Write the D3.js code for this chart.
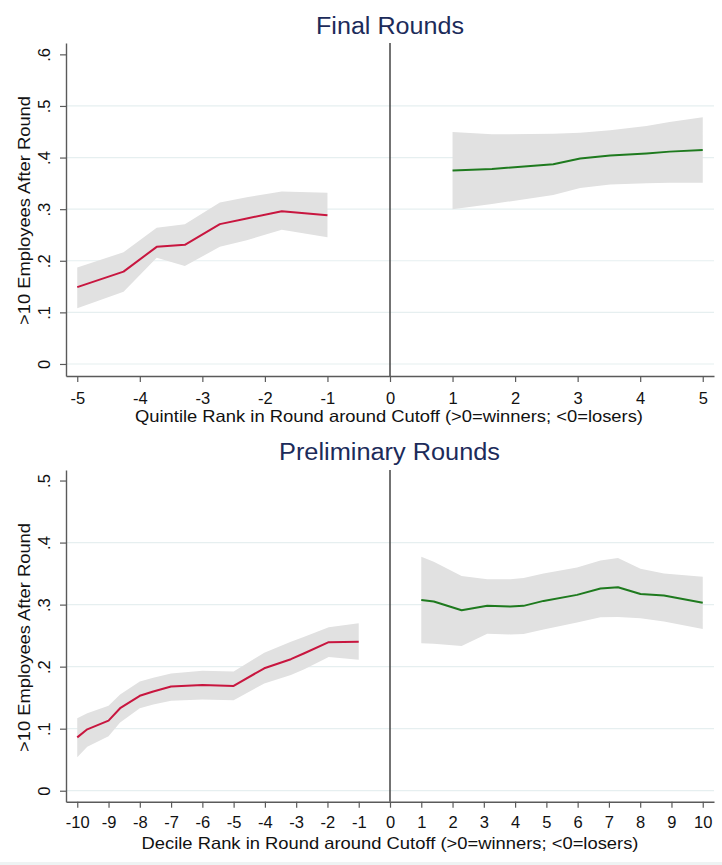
<!DOCTYPE html>
<html>
<head>
<meta charset="utf-8">
<script src="https://cdn.jsdelivr.net/npm/d3@7"></script>
<style>
  html, body { margin: 0; padding: 0; background: #fff; }
  svg { display: block; font-family: "Liberation Sans", Arial, Helvetica, sans-serif; }
</style>
</head>
<body>
<svg id="chart" width="722" height="865"></svg>
<script>
// ---------- Data ----------
// Final rounds (quintile ranks)
const finalTicksX = [-5, -4, -3, -2, -1, 0, 1, 2, 3, 4, 5];
const finalTicksY = [0, 0.1, 0.2, 0.3, 0.4, 0.5, 0.6];
const finalLoseX  = [-5, -4.26, -3.73, -3.28, -2.72, -2.29, -1.73, -1];
const finalLoseY  = [0.149, 0.179, 0.227, 0.231, 0.271, 0.282, 0.296, 0.288];
const finalLoseHi = [0.187, 0.2165, 0.264, 0.271, 0.313, 0.323, 0.334, 0.332];
const finalLoseLo = [0.108, 0.140, 0.206, 0.190, 0.227, 0.240, 0.260, 0.2455];
const finalWinX   = [1, 1.63, 2.61, 3.04, 3.52, 4.10, 4.47, 5];
const finalWinY   = [0.375, 0.378, 0.387, 0.398, 0.404, 0.408, 0.4115, 0.4147];
const finalWinHi  = [0.4496, 0.445, 0.446, 0.448, 0.453, 0.461, 0.469, 0.478];
const finalWinLo  = [0.300, 0.310, 0.3275, 0.341, 0.348, 0.350, 0.351, 0.3514];

// Preliminary rounds (decile ranks)
const prelimTicksX = [-10, -9, -8, -7, -6, -5, -4, -3, -2, -1, 0, 1, 2, 3, 4, 5, 6, 7, 8, 9, 10];
const prelimTicksY = [0, 0.1, 0.2, 0.3, 0.4, 0.5];
const prelimLoseX  = [-10, -9.68, -9, -8.63, -8, -7.57, -7, -6, -5, -4.02, -3.17, -2.74, -1.96, -1];
const prelimLoseY  = [0.086, 0.099, 0.113, 0.133, 0.153, 0.160, 0.168, 0.1705, 0.169, 0.1974, 0.212, 0.2216, 0.2394, 0.2403];
const prelimLoseHi = [0.1167, 0.125, 0.137, 0.155, 0.176, 0.182, 0.189, 0.1935, 0.192, 0.2226, 0.240, 0.248, 0.2635, 0.270];
const prelimLoseLo = [0.054, 0.071, 0.088, 0.110, 0.133, 0.139, 0.145, 0.147, 0.146, 0.173, 0.1866, 0.196, 0.2157, 0.211];
const prelimWinX   = [1, 1.40, 2.29, 3.11, 3.85, 4.27, 4.91, 5.98, 6.73, 7.29, 8.01, 8.76, 10];
const prelimWinY   = [0.3076, 0.305, 0.291, 0.298, 0.297, 0.298, 0.306, 0.3157, 0.326, 0.328, 0.317, 0.3146, 0.303];
const prelimWinHi  = [0.377, 0.369, 0.346, 0.341, 0.341, 0.343, 0.350, 0.360, 0.371, 0.375, 0.358, 0.350, 0.345];
const prelimWinLo  = [0.2377, 0.237, 0.2334, 0.253, 0.252, 0.2527, 0.260, 0.271, 0.2797, 0.280, 0.278, 0.2726, 0.2608];

const yTitle = ">10 Employees After Round";

// ---------- Drawing ----------
const svg = d3.select("#chart");
const loseColor = "#c8163f", winColor = "#1e7a1e", bandColor = "#e1e1e1";
const axisColor = "#5a5a5a", textColor = "#111";

function drawPanel(p) {
  const x = d3.scaleLinear().domain(p.xDomain).range([66, 714]);
  const y = d3.scaleLinear().domain(p.yDomain).range([p.bottom, p.top]);
  const g = svg.append("g");

  // gridlines (all but the top tick)
  g.selectAll("line.grid").data(p.ticksY.slice(0, -1)).join("line")
    .attr("x1", 66).attr("x2", 714)
    .attr("y1", d => y(d)).attr("y2", d => y(d))
    .attr("stroke", "#e6eff0").attr("stroke-width", 1.2);

  // bands and lines
  const drawSeries = (xs, ys, hi, lo, color) => {
    const pts = xs.map((v, i) => ({x: v, y: ys[i], hi: hi[i], lo: lo[i]}));
    g.append("path").datum(pts)
      .attr("d", d3.area().x(d => x(d.x)).y0(d => y(d.lo)).y1(d => y(d.hi)))
      .attr("fill", bandColor);
    g.append("path").datum(pts)
      .attr("d", d3.line().x(d => x(d.x)).y(d => y(d.y)))
      .attr("fill", "none").attr("stroke", color).attr("stroke-width", 2)
      .attr("stroke-linejoin", "round");
  };
  drawSeries(p.loseX, p.loseY, p.loseHi, p.loseLo, loseColor);
  drawSeries(p.winX, p.winY, p.winHi, p.winLo, winColor);

  // cutoff line
  g.append("line")
    .attr("x1", x(0)).attr("x2", x(0)).attr("y1", p.top).attr("y2", p.bottom)
    .attr("stroke", "#444").attr("stroke-width", 1.5);

  // y axis
  const fmt = v => v === 0 ? "0" : d3.format(".1f")(v).replace(/^0/, "");
  const ya = g.append("g").attr("transform", "translate(66,0)")
    .call(d3.axisLeft(y).tickValues(p.ticksY).tickFormat(fmt).tickSize(6).tickSizeOuter(0));
  ya.select(".domain").attr("stroke", axisColor).attr("stroke-width", 1.4);
  ya.selectAll(".tick line").attr("stroke", axisColor).attr("stroke-width", 1.2);
  ya.selectAll(".tick text")
    .attr("x", null).attr("dy", null)
    .attr("transform", "translate(-16,0) rotate(-90)")
    .attr("text-anchor", "middle")
    .attr("fill", textColor).style("font-size", "16.5px")
    .style("font-family", "'Liberation Sans', Arial, sans-serif");

  // x axis (plain hyphen-minus like the original)
  const xa = g.append("g").attr("transform", `translate(0,${p.bottom})`)
    .call(d3.axisBottom(x).tickValues(p.ticksX).tickFormat(d => String(d)).tickSize(6).tickSizeOuter(0));
  xa.select(".domain").attr("stroke", axisColor).attr("stroke-width", 1.4);
  xa.selectAll(".tick line").attr("stroke", axisColor).attr("stroke-width", 1.2);
  xa.selectAll(".tick text")
    .attr("y", p.xTickOffset).attr("dy", null)
    .attr("fill", textColor).style("font-size", "16.5px")
    .style("font-family", "'Liberation Sans', Arial, sans-serif");

  // titles
  g.append("text").text(p.title)
    .attr("x", p.titleX).attr("y", p.titleY).attr("text-anchor", "middle")
    .attr("textLength", p.titleLen).attr("lengthAdjust", "spacingAndGlyphs")
    .attr("fill", "#1c2b5a").style("font-size", "23.5px");
  g.append("text").text(p.xTitle)
    .attr("x", p.xTitleX).attr("y", p.xTitleY).attr("text-anchor", "middle")
    .attr("textLength", p.xTitleLen).attr("lengthAdjust", "spacingAndGlyphs")
    .attr("fill", textColor).style("font-size", "16.5px");
  g.append("text").text(yTitle)
    .attr("transform", `translate(30,${p.yTitleY}) rotate(-90)`)
    .attr("text-anchor", "middle")
    .attr("textLength", 229).attr("lengthAdjust", "spacingAndGlyphs")
    .attr("fill", textColor).style("font-size", "16.5px");
}

drawPanel({
  xDomain: [-5.18, 5.18], yDomain: [-0.0233, 0.622], top: 43, bottom: 376,
  ticksX: finalTicksX, ticksY: finalTicksY,
  loseX: finalLoseX, loseY: finalLoseY, loseHi: finalLoseHi, loseLo: finalLoseLo,
  winX: finalWinX, winY: finalWinY, winHi: finalWinHi, winLo: finalWinLo,
  xTickOffset: 27.5,
  title: "Final Rounds", titleX: 390, titleY: 34.3, titleLen: 148,
  xTitle: "Quintile Rank in Round around Cutoff (>0=winners; <0=losers)",
  xTitleX: 389, xTitleY: 422, xTitleLen: 508, yTitleY: 210.5
});

drawPanel({
  xDomain: [-10.36, 10.36], yDomain: [-0.0177, 0.517], top: 470, bottom: 801.7,
  ticksX: prelimTicksX, ticksY: prelimTicksY,
  loseX: prelimLoseX, loseY: prelimLoseY, loseHi: prelimLoseHi, loseLo: prelimLoseLo,
  winX: prelimWinX, winY: prelimWinY, winHi: prelimWinHi, winLo: prelimWinLo,
  xTickOffset: 26.8,
  title: "Preliminary Rounds", titleX: 389.5, titleY: 460, titleLen: 221,
  xTitle: "Decile Rank in Round around Cutoff (>0=winners; <0=losers)",
  xTitleX: 390, xTitleY: 849, xTitleLen: 497, yTitleY: 637.5
});

// faint bottom strip
svg.append("rect").attr("x", 0).attr("y", 862).attr("width", 722).attr("height", 3).attr("fill", "#eef3f3");
</script>
</body>
</html>
